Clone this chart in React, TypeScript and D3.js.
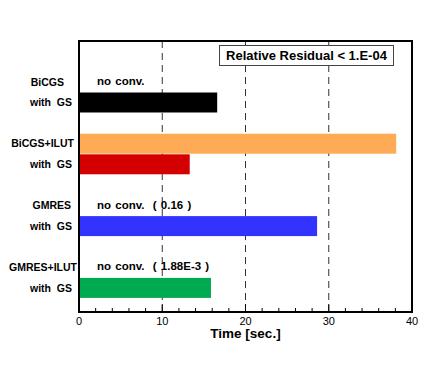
import React, { useRef, useEffect } from "react";
import * as d3 from "d3";

// rows: two label lines per solver group, a blank row between groups
const groupNames = ["BiCGS", "BiCGS+ILUT", "GMRES", "GMRES+ILUT"];
const subLabel = "with  GS";
// bar in first row (without GS), NaN = no bar
const plainTimes = [NaN, 38.1, NaN, NaN];
// bar in "with GS" row
const gsTimes = [16.6, 13.3, 28.6, 15.85];
const notes = ["no conv.", "", "no conv.  ( 0.16 )", "no conv.  ( 1.88E-3 )"];
const plainColors = ["#000000", "#ffaa55", "#000000", "#000000"];
const gsColors = ["#000000", "#d40000", "#3333ff", "#00aa50"];
const xTicks = [0, 10, 20, 30, 40];
const legendText = "Relative Residual < 1.E-04";
const xTitle = "Time [sec.]";

export default function App() {
  const svgRef = useRef<SVGSVGElement>(null);

  useEffect(() => {
    document.body.style.margin = "0";
    const W = 436, H = 392;
    const svg = d3.select(svgRef.current).attr("width", W).attr("height", H);
    svg.selectAll("*").remove();

    const left = 79, right = 412, top = 41, bottom = 312;
    const font = "'Liberation Sans', Arial, Helvetica, sans-serif";

    const x = d3.scaleLinear().domain([0, 40]).range([left, right]);
    // 12 row slots: group g uses slot g*3 and g*3+1
    const y = d3.scaleBand<number>()
      .domain(d3.range(12))
      .range([71.6, 71.6 + 12 * 20.6])
      .paddingInner(0.03)
      .paddingOuter(0.015);
    const cy = (i: number) => (y(i) as number) + y.bandwidth() / 2;

    // grid lines
    svg.append("g")
      .selectAll("line")
      .data(xTicks.slice(1, -1))
      .join("line")
        .attr("x1", d => x(d)).attr("x2", d => x(d))
        .attr("y1", top).attr("y2", bottom)
        .attr("stroke", "#333")
        .attr("stroke-width", 1)
        .attr("stroke-dasharray", "7,5");

    // legend box
    svg.append("rect")
      .attr("x", 219.5).attr("y", 45.5)
      .attr("width", 174).attr("height", 20)
      .attr("fill", "#fff")
      .attr("stroke", "#444")
      .attr("stroke-width", 1);
    svg.append("text")
      .attr("x", 306.5).attr("y", 60)
      .attr("text-anchor", "middle")
      .attr("font-family", font)
      .attr("font-weight", "bold")
      .attr("font-size", "13px")
      .text(legendText);

    const groups = groupNames.map((name, g) => ({
      name, g,
      plain: plainTimes[g], gs: gsTimes[g],
      note: notes[g],
      plainColor: plainColors[g], gsColor: gsColors[g],
    }));

    // bars
    const bars = svg.append("g");
    groups.forEach(d => {
      if (!isNaN(d.plain)) {
        bars.append("rect")
          .attr("x", x(0)).attr("y", y(d.g * 3) as number)
          .attr("width", x(d.plain) - x(0))
          .attr("height", y.bandwidth())
          .attr("fill", d.plainColor);
      }
      if (!isNaN(d.gs)) {
        bars.append("rect")
          .attr("x", x(0)).attr("y", y(d.g * 3 + 1) as number)
          .attr("width", x(d.gs) - x(0))
          .attr("height", y.bandwidth())
          .attr("fill", d.gsColor);
      }
    });

    // notes
    svg.append("g")
      .selectAll("text")
      .data(groups.filter(d => d.note))
      .join("text")
        .attr("x", 97)
        .attr("y", d => cy(d.g * 3) - 1)
        .attr("dy", "0.35em")
        .attr("font-family", font)
        .attr("font-weight", "bold")
        .attr("font-size", "11.5px")
        .style("white-space", "pre")
        .style("word-spacing", "1px")
        .text(d => d.note);

    // row labels
    const labelEnd: Record<string, number> = { BiCGS: 64, "BiCGS+ILUT": 74, GMRES: 71, "GMRES+ILUT": 77 };
    const lab = svg.append("g")
      .attr("font-family", font)
      .attr("font-weight", "bold")
      .attr("font-size", "10.5px")
      .attr("text-anchor", "end");
    groups.forEach(d => {
      lab.append("text")
        .attr("x", labelEnd[d.name])
        .attr("y", cy(d.g * 3))
        .attr("dy", "0.35em")
        .text(d.name);
      lab.append("text")
        .attr("x", 72)
        .attr("y", cy(d.g * 3 + 1))
        .attr("dy", "0.35em")
        .style("white-space", "pre")
        .text(subLabel);
    });

    // ticks (inward, from bottom)
    const ticks = svg.append("g").attr("stroke", "#000").attr("stroke-width", 1);
    d3.range(0, 41, 2).forEach(v => {
      const major = v % 10 === 0;
      ticks.append("line")
        .attr("x1", x(v)).attr("x2", x(v))
        .attr("y1", bottom).attr("y2", bottom - (major ? 8 : 4));
    });

    // frame
    svg.append("rect")
      .attr("x", left).attr("y", top)
      .attr("width", right - left).attr("height", bottom - top)
      .attr("fill", "none")
      .attr("stroke", "#000")
      .attr("stroke-width", 2);

    // tick labels
    svg.append("g")
      .selectAll("text")
      .data(xTicks)
      .join("text")
        .attr("x", d => x(d))
        .attr("y", 321)
        .attr("dy", "0.35em")
        .attr("text-anchor", "middle")
        .attr("font-family", font)
        .attr("font-size", "11px")
        .text(d => d);

    svg.append("text")
      .attr("x", 245.5)
      .attr("y", 333)
      .attr("dy", "0.35em")
      .attr("text-anchor", "middle")
      .attr("font-family", font)
      .attr("font-weight", "bold")
      .attr("font-size", "13.5px")
      .text(xTitle);
  }, []);

  return <svg ref={svgRef} style={{ display: "block" }} />;
}
